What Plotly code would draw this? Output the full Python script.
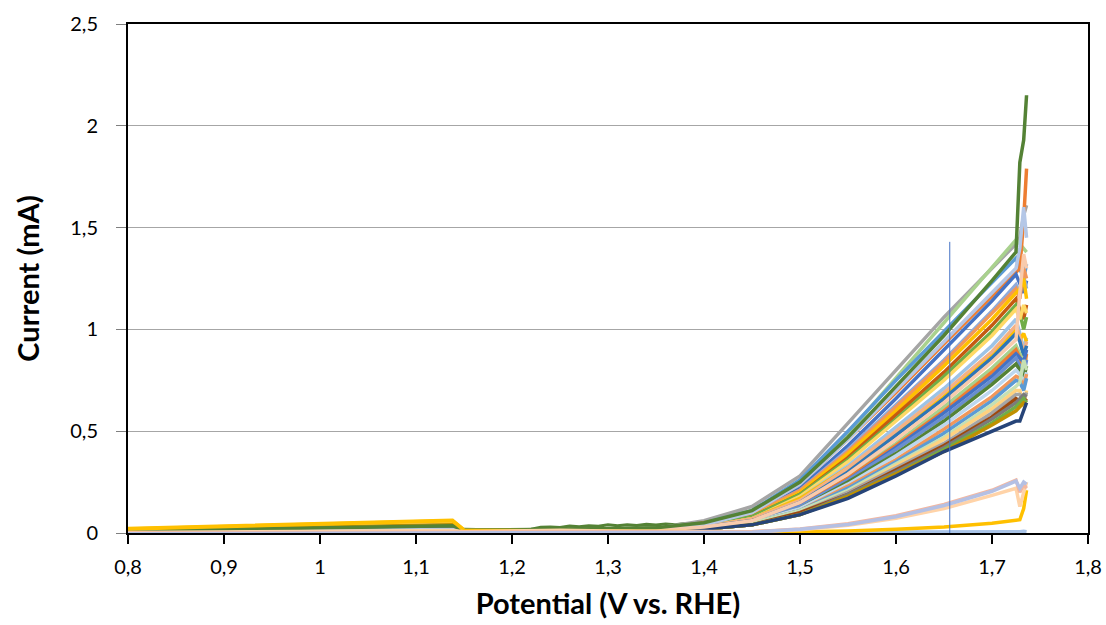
import plotly.graph_objects as go

# Potential grid shared by every scan (V vs. RHE)
POTENTIAL = [0.80, 1.138, 1.150, 1.20, 1.25, 1.30, 1.35, 1.40, 1.45, 1.50,
             1.55, 1.60, 1.65, 1.70, 1.725, 1.729, 1.733, 1.736]

# Current (mA) of each scan on the POTENTIAL grid
scan_01 = [0.010, 0.035, 0.012, 0.012, 0.014, 0.016, 0.022, 0.060, 0.130, 0.280, 0.540, 0.800, 1.060, 1.300, 1.420, 1.450, 1.560, 1.610]
scan_02 = [0.008, 0.030, 0.012, 0.012, 0.014, 0.016, 0.020, 0.050, 0.110, 0.250, 0.490, 0.760, 1.030, 1.300, 1.440, 1.420, 1.400, 1.380]
scan_03 = [0.014, 0.050, 0.014, 0.012, 0.014, 0.016, 0.020, 0.050, 0.110, 0.260, 0.500, 0.750, 0.990, 1.230, 1.350, 1.300, 1.250, 1.320]
scan_04 = [0.006, 0.025, 0.010, 0.010, 0.012, 0.014, 0.018, 0.050, 0.100, 0.240, 0.460, 0.690, 0.930, 1.160, 1.280, 1.300, 1.540, 1.790]
scan_05 = [0.012, 0.045, 0.012, 0.012, 0.014, 0.016, 0.020, 0.040, 0.090, 0.220, 0.430, 0.660, 0.900, 1.140, 1.270, 1.220, 1.180, 1.240]
scan_06 = [0.006, 0.024, 0.010, 0.010, 0.012, 0.014, 0.018, 0.040, 0.090, 0.210, 0.410, 0.630, 0.850, 1.090, 1.220, 1.180, 1.260, 1.200]
scan_07 = [0.008, 0.030, 0.010, 0.010, 0.012, 0.014, 0.018, 0.040, 0.090, 0.210, 0.400, 0.620, 0.840, 1.080, 1.200, 1.150, 1.300, 1.250]
scan_08 = [0.022, 0.062, 0.016, 0.012, 0.014, 0.016, 0.020, 0.040, 0.080, 0.200, 0.390, 0.600, 0.820, 1.050, 1.180, 1.200, 1.250, 1.150]
scan_09 = [0.008, 0.030, 0.010, 0.010, 0.012, 0.014, 0.018, 0.040, 0.080, 0.190, 0.370, 0.580, 0.790, 1.020, 1.150, 1.100, 1.050, 1.120]
scan_10 = [0.010, 0.040, 0.012, 0.012, 0.014, 0.016, 0.022, 0.040, 0.080, 0.190, 0.360, 0.560, 0.770, 0.990, 1.120, 1.080, 1.000, 1.060]
scan_11 = [0.016, 0.052, 0.014, 0.012, 0.014, 0.016, 0.020, 0.030, 0.070, 0.180, 0.350, 0.550, 0.750, 0.970, 1.100, 1.050, 1.120, 1.080]
scan_12 = [0.006, 0.022, 0.010, 0.010, 0.012, 0.014, 0.018, 0.030, 0.070, 0.170, 0.330, 0.520, 0.710, 0.920, 1.050, 0.980, 0.900, 0.960]
scan_13 = [0.018, 0.056, 0.014, 0.012, 0.014, 0.016, 0.020, 0.030, 0.070, 0.170, 0.320, 0.490, 0.670, 0.880, 1.000, 0.950, 0.980, 0.940]
scan_14 = [0.004, 0.016, 0.010, 0.010, 0.012, 0.014, 0.016, 0.030, 0.070, 0.160, 0.320, 0.500, 0.690, 0.890, 1.020, 0.960, 0.880, 0.940]
scan_15 = [0.012, 0.044, 0.012, 0.012, 0.014, 0.016, 0.020, 0.030, 0.060, 0.150, 0.300, 0.480, 0.660, 0.860, 0.980, 0.940, 0.870, 0.920]
scan_16 = [0.008, 0.030, 0.012, 0.012, 0.014, 0.016, 0.020, 0.030, 0.060, 0.140, 0.280, 0.440, 0.620, 0.810, 0.920, 0.880, 0.840, 0.860]
scan_17 = [0.006, 0.024, 0.010, 0.010, 0.012, 0.014, 0.018, 0.030, 0.060, 0.140, 0.270, 0.430, 0.600, 0.790, 0.900, 0.860, 0.800, 0.880]
scan_18 = [0.010, 0.038, 0.012, 0.012, 0.014, 0.016, 0.020, 0.030, 0.060, 0.130, 0.260, 0.420, 0.590, 0.770, 0.880, 0.860, 0.840, 0.900]
scan_19 = [0.008, 0.030, 0.010, 0.010, 0.012, 0.014, 0.018, 0.030, 0.050, 0.130, 0.260, 0.410, 0.570, 0.750, 0.860, 0.820, 0.780, 0.850]
scan_20 = [0.010, 0.036, 0.012, 0.014, 0.016, 0.018, 0.024, 0.030, 0.050, 0.120, 0.250, 0.390, 0.550, 0.730, 0.830, 0.800, 0.760, 0.820]
scan_21 = [0.004, 0.016, 0.008, 0.008, 0.010, 0.012, 0.016, 0.030, 0.050, 0.120, 0.240, 0.380, 0.530, 0.700, 0.800, 0.780, 0.740, 0.790]
scan_22 = [0.006, 0.022, 0.010, 0.010, 0.012, 0.014, 0.018, 0.030, 0.050, 0.110, 0.230, 0.360, 0.510, 0.670, 0.770, 0.760, 0.720, 0.780]
scan_23 = [0.012, 0.046, 0.012, 0.012, 0.014, 0.016, 0.020, 0.030, 0.050, 0.110, 0.220, 0.350, 0.490, 0.650, 0.750, 0.740, 0.700, 0.760]
scan_24 = [0.006, 0.024, 0.010, 0.010, 0.012, 0.014, 0.018, 0.020, 0.050, 0.110, 0.210, 0.340, 0.470, 0.630, 0.720, 0.740, 0.850, 0.800]
scan_25 = [0.014, 0.048, 0.012, 0.012, 0.014, 0.016, 0.020, 0.020, 0.040, 0.100, 0.200, 0.330, 0.460, 0.610, 0.700, 0.700, 0.620, 0.700]
scan_26 = [0.008, 0.030, 0.010, 0.010, 0.012, 0.014, 0.018, 0.020, 0.040, 0.100, 0.200, 0.320, 0.440, 0.590, 0.680, 0.680, 0.650, 0.690]
scan_27 = [0.006, 0.024, 0.010, 0.010, 0.012, 0.014, 0.018, 0.020, 0.040, 0.100, 0.190, 0.310, 0.430, 0.570, 0.660, 0.650, 0.640, 0.660]
scan_28 = [0.006, 0.022, 0.010, 0.010, 0.012, 0.014, 0.018, 0.020, 0.040, 0.090, 0.190, 0.300, 0.420, 0.560, 0.640, 0.660, 0.680, 0.670]
scan_29 = [0.010, 0.038, 0.012, 0.012, 0.014, 0.016, 0.022, 0.020, 0.040, 0.090, 0.180, 0.290, 0.410, 0.540, 0.620, 0.640, 0.660, 0.640]
scan_30 = [0.010, 0.040, 0.012, 0.012, 0.014, 0.016, 0.020, 0.020, 0.040, 0.090, 0.180, 0.290, 0.400, 0.530, 0.600, 0.620, 0.640, 0.630]
scan_31 = [0.008, 0.030, 0.010, 0.010, 0.012, 0.014, 0.018, 0.020, 0.040, 0.090, 0.170, 0.280, 0.400, 0.500, 0.550, 0.550, 0.600, 0.640]
scan_32 = [0.004, 0.018, 0.010, 0.010, 0.012, 0.014, 0.018, 0.040, 0.100, 0.240, 0.460, 0.700, 0.940, 1.180, 1.300, 1.400, 1.600, 1.450]
scan_33 = [0.002, 0.010, 0.008, 0.010, 0.014, 0.012, 0.014, 0.030, 0.060, 0.150, 0.290, 0.460, 0.640, 0.840, 0.950, 1.180, 1.370, 1.300]
scan_34 = [0.010, 0.036, 0.014, 0.014, 0.018, 0.020, 0.026, 0.050, 0.110, 0.250, 0.470, 0.720, 0.970, 1.240, 1.380, 1.820, 1.930, 2.150]

# Scans that stay low over the whole window
low_01 = [0.000, 0.006, 0.004, 0.004, 0.008, 0.006, 0.006, 0.004, 0.006, 0.020, 0.045, 0.085, 0.140, 0.210, 0.260, 0.200, 0.240, 0.220]
low_02 = [-0.004, -0.002, 0.000, 0.000, 0.002, 0.002, 0.002, 0.002, 0.004, 0.018, 0.042, 0.080, 0.135, 0.205, 0.255, 0.220, 0.250, 0.240]
low_03 = [0.002, 0.012, 0.006, 0.008, 0.014, 0.010, 0.010, 0.006, 0.006, 0.016, 0.038, 0.072, 0.120, 0.185, 0.220, 0.130, 0.200, 0.250]
low_04 = [0.020, 0.060, 0.014, 0.010, 0.010, 0.010, 0.010, 0.006, 0.002, 0.004, 0.010, 0.018, 0.030, 0.048, 0.060, 0.065, 0.120, 0.210]
low_05 = [-0.002, 0.000, 0.002, 0.004, 0.004, 0.004, 0.004, 0.004, 0.006, 0.006, 0.006, 0.006, 0.006, 0.006, 0.006, 0.006, 0.008, 0.006]

# Noisy baseline scan in the double-layer region
noisy_potential = [1.150, 1.170, 1.190, 1.210, 1.220, 1.230, 1.240, 1.250, 1.260, 1.270,
                   1.280, 1.290, 1.300, 1.310, 1.320, 1.330, 1.340, 1.350, 1.360, 1.370,
                   1.380, 1.390, 1.400, 1.410, 1.420, 1.430, 1.440, 1.450]
noisy_current = [0.018, 0.016, 0.015, 0.016, 0.018, 0.028, 0.030, 0.027, 0.034, 0.031,
                 0.036, 0.033, 0.040, 0.036, 0.041, 0.037, 0.043, 0.039, 0.044, 0.040,
                 0.046, 0.043, 0.050, 0.056, 0.066, 0.078, 0.092, 0.110]

# Thin vertical marker line
marker_potential = [1.656, 1.656]
marker_current = [0.0, 1.43]

# Axis ticks
x_tick_values = [0.8, 0.9, 1.0, 1.1, 1.2, 1.3, 1.4, 1.5, 1.6, 1.7, 1.8]
x_tick_labels = ["0,8", "0,9", "1", "1,1", "1,2", "1,3", "1,4", "1,5", "1,6", "1,7", "1,8"]
y_tick_values = [0, 0.5, 1.0, 1.5, 2.0, 2.5]
y_tick_labels = ["0", "0,5", "1", "1,5", "2", "2,5"]

scans = [scan_01, scan_02, scan_03, scan_04, scan_05, scan_06, scan_07, scan_08,
         scan_09, scan_10, scan_11, scan_12, scan_13, scan_14, scan_15, scan_16,
         scan_17, scan_18, scan_19, scan_20, scan_21, scan_22, scan_23, scan_24,
         scan_25, scan_26, scan_27, scan_28, scan_29, scan_30, scan_31, scan_32,
         scan_33, scan_34]
scan_colors = ["#A5A5A5", "#A9D18E", "#5B9BD5", "#ED7D31", "#4472C4", "#8FAADC",
               "#F1975A", "#FFC000", "#C55A11", "#70AD47", "#FFD966", "#9DC3E6",
               "#FFC000", "#F4B183", "#2E75B6", "#A9D18E", "#ED7D31", "#4472C4",
               "#698ED0", "#548235", "#BDD7EE", "#F1975A", "#5B9BD5", "#C5E0B4",
               "#FFD27F", "#A5A5A5", "#9E480E", "#7B7B7B", "#70AD47", "#BF9000",
               "#264478", "#B4C7E7", "#F8CBAD", "#548235"]

low_scans = [low_05, low_04, low_03, low_01, low_02]
low_colors = ["#A9C4E8", "#FFC000", "#FFD3A8", "#F4B7A0", "#B4C0E4"]

fig = go.Figure()

fig.add_trace(go.Scatter(x=noisy_potential, y=noisy_current, mode="lines",
                         line=dict(color="#548235", width=3), showlegend=False))

for values, color in zip(scans, scan_colors):
    fig.add_trace(go.Scatter(x=POTENTIAL, y=values, mode="lines",
                             line=dict(color=color, width=3.5), showlegend=False))

for values, color in zip(low_scans, low_colors):
    fig.add_trace(go.Scatter(x=POTENTIAL, y=values, mode="lines",
                             line=dict(color=color, width=3.5), showlegend=False))

fig.add_trace(go.Scatter(x=marker_potential, y=marker_current, mode="lines",
                         line=dict(color="#4472C4", width=1), showlegend=False))

axis_font = dict(family="Lato, 'Open Sans', sans-serif", size=20, color="#000000")
title_font = dict(family="Lato, 'Open Sans', sans-serif", size=29, color="#000000")

fig.update_layout(
    width=1106, height=625,
    margin=dict(l=128, r=18, t=24, b=92),
    paper_bgcolor="#FFFFFF", plot_bgcolor="#FFFFFF",
    showlegend=False,
    xaxis=dict(
        range=[0.8, 1.8], tickvals=x_tick_values, ticktext=x_tick_labels,
        showgrid=False, zeroline=False, automargin=False,
        showline=True, linecolor="#000000", linewidth=2, mirror=True,
        ticks="outside", ticklen=9, tickwidth=2, tickcolor="#000000",
        tickfont=axis_font, ticklabelstandoff=6,
        title=dict(text="<b>Potential (V vs. RHE)</b>", font=title_font, standoff=17),
    ),
    yaxis=dict(
        range=[0, 2.5], tickvals=y_tick_values, ticktext=y_tick_labels,
        showgrid=True, gridcolor="#A6A6A6", gridwidth=1.3, zeroline=False,
        automargin=False,
        showline=True, linecolor="#000000", linewidth=2, mirror=True,
        ticks="outside", ticklen=10, tickwidth=1.3, tickcolor="#7F7F7F",
        tickfont=axis_font, ticklabelstandoff=14,
        title=dict(text="<b>Current (mA)</b>", font=title_font, standoff=22),
    ),
)

fig.write_html("out.html")
